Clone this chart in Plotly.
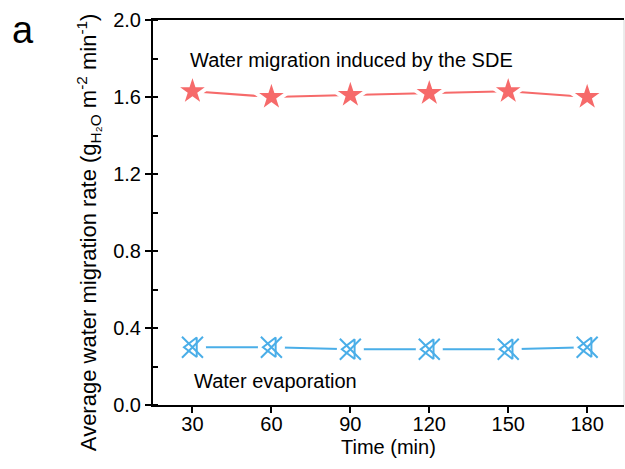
import plotly.graph_objects as go

# Sampling times and measured average water migration rates
time_min = [30, 60, 90, 120, 150, 180]
sde_rate = [1.63, 1.60, 1.61, 1.62, 1.63, 1.60]
evap_rate = [0.30, 0.30, 0.29, 0.29, 0.29, 0.30]

red = "#F66A6A"
blue = "#4AAEE8"
font_family = "Arial, 'Liberation Sans', sans-serif"

fig = go.Figure()

# SDE-induced migration: line, then stars with a white rim that leaves a gap
fig.add_trace(go.Scatter(x=time_min, y=sde_rate, mode="lines",
                         line=dict(color=red, width=2), hoverinfo="skip"))
fig.add_trace(go.Scatter(x=time_min, y=sde_rate, mode="markers",
                         marker=dict(symbol="star", size=28, color=red,
                                     line=dict(color="white", width=4))))

# Evaporation: line, white backing disc, then crossed open triangle marker
fig.add_trace(go.Scatter(x=time_min, y=evap_rate, mode="lines",
                         line=dict(color=blue, width=2), hoverinfo="skip"))
fig.add_trace(go.Scatter(x=time_min, y=evap_rate, mode="markers",
                         marker=dict(symbol="circle", size=27, color="white",
                                     line=dict(width=0)), hoverinfo="skip"))
fig.add_trace(go.Scatter(x=time_min, y=evap_rate, mode="markers",
                         marker=dict(symbol="x-thin-open", size=21, color=blue,
                                     line=dict(color=blue, width=2))))
fig.add_trace(go.Scatter(x=time_min, y=evap_rate, mode="markers",
                         marker=dict(symbol="triangle-left-open", size=17,
                                     color=blue, line=dict(color=blue, width=2))))

fig.add_annotation(x=30, y=1.79, xref="x", yref="y", xanchor="left",
                   xshift=-4, text="Water migration induced by the SDE",
                   showarrow=False, font=dict(size=20, color="black"))
fig.add_annotation(x=30, y=0.125, xref="x", yref="y", xanchor="left",
                   xshift=0, text="Water evaporation",
                   showarrow=False, font=dict(size=20, color="black"))
fig.add_annotation(x=-0.3036, y=0.975, xref="paper", yref="paper",
                   xanchor="left", yanchor="middle",
                   text="a", showarrow=False,
                   font=dict(size=38, color="black"))

# axis titles
fig.add_annotation(x=-0.138, y=0.449, xref="paper", yref="paper",
                   xanchor="center", yanchor="middle", textangle=-90,
                   text="Average water migration rate (g<sub>H₂O</sub> m<sup>-2</sup> min<sup>-1</sup>)",
                   showarrow=False, font=dict(size=22, color="black"))
fig.add_annotation(x=0.5, y=-0.109, xref="paper", yref="paper",
                   xanchor="center", yanchor="middle",
                   text="Time (min)", showarrow=False,
                   font=dict(size=20, color="black"))

# faint right border of the frame
fig.add_shape(type="line", xref="paper", yref="paper", x0=1, x1=1, y0=0, y1=1,
              line=dict(color="#d8d8d8", width=1))

fig.update_layout(
    width=625, height=469,
    margin=dict(l=153, r=1, t=20, b=64),
    paper_bgcolor="white", plot_bgcolor="white",
    showlegend=False,
    font=dict(family=font_family, color="black", size=20),
)

fig.update_xaxes(
    range=[15, 194], tickmode="array", tickvals=time_min,
    ticks="outside", ticklen=6, tickwidth=2, tickcolor="black",
    ticklabelstandoff=-6,
    showline=True, linewidth=2, linecolor="black", mirror=True,
    showgrid=False, zeroline=False,
    tickfont=dict(size=20),
)

fig.update_yaxes(
    range=[0, 2.0], tickmode="array", tickvals=[0, 0.4, 0.8, 1.2, 1.6, 2.0],
    ticktext=["0.0", "0.4", "0.8", "1.2", "1.6", "2.0"],
    ticks="outside", ticklen=6, tickwidth=2, tickcolor="black",
    minor=dict(dtick=0.2, ticks="inside", ticklen=5, tickwidth=2,
               tickcolor="black", showgrid=False),
    showline=True, linewidth=2, linecolor="black",
    showgrid=False, zeroline=False,
    tickfont=dict(size=20),
)

fig.write_html("out.html")
